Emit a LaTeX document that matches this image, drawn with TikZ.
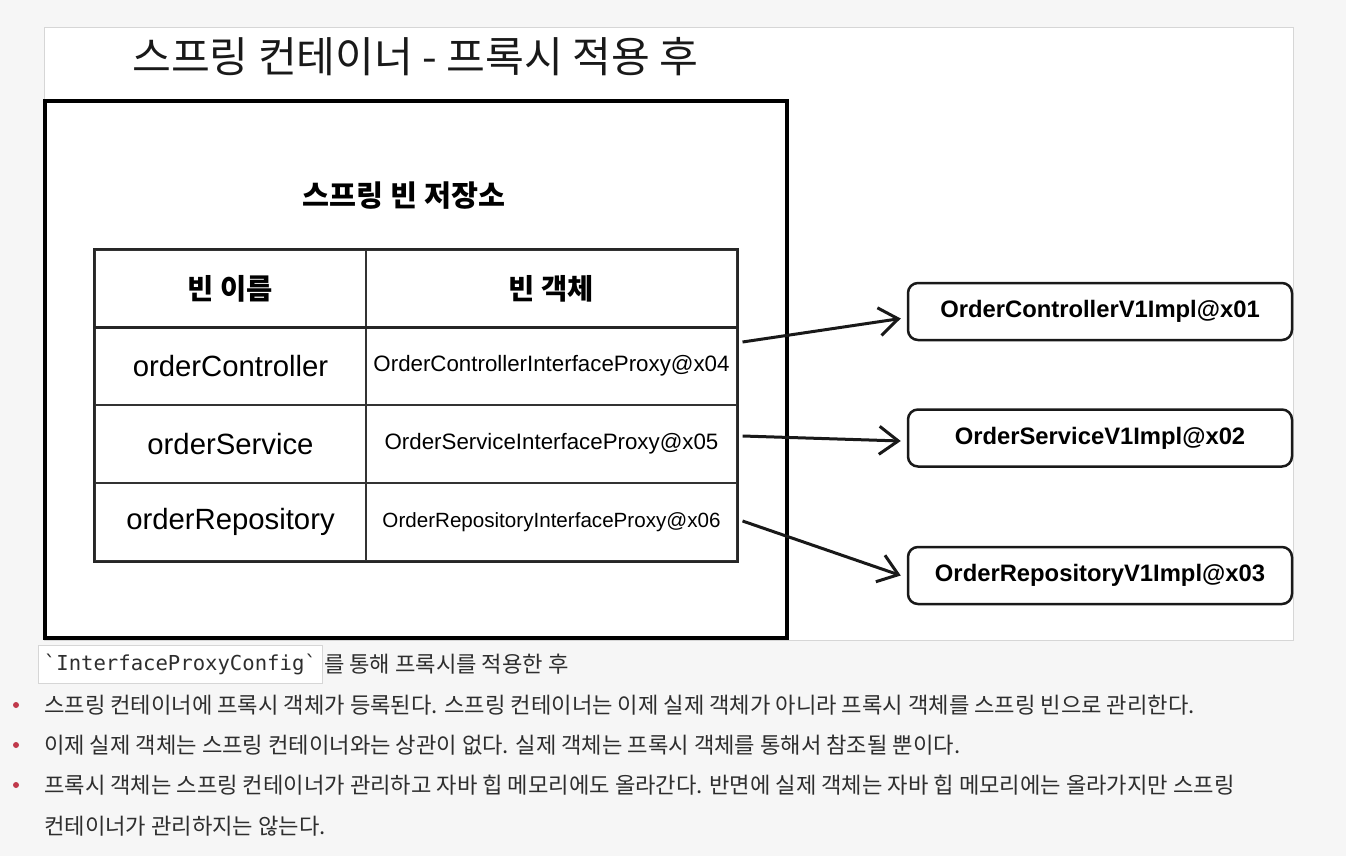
\documentclass[tikz,border=0pt]{standalone}
\usepackage{fontspec}
\setmainfont{Liberation Sans}
\newfontfamily\kr{Noto Sans CJK KR}
\newfontfamily\code{DejaVu Sans Mono}
\usetikzlibrary{arrows.meta,calc}
\definecolor{pagebg}{HTML}{F6F6F6}
\definecolor{txt}{HTML}{2E2E2E}
\definecolor{bul}{HTML}{C0394B}
\definecolor{frame}{HTML}{D6D6D6}
\tikzset{
  cell/.style={draw=black!80, line width=1.1pt, inner sep=0pt, text=black},
  namecell/.style={cell, minimum width=271pt, minimum height=78pt, font=\fontsize{29.3}{33}\selectfont},
  objcell/.style={cell, minimum width=371pt, minimum height=78pt, font=\fontsize{22.3}{26}\selectfont},
  headcell/.style={cell, minimum height=77pt, font=\kr\bfseries\fontsize{28.5}{32}\selectfont},
  implbox/.style={draw=black!90, line width=2.5pt, rounded corners=10pt, fill=white, minimum width=384pt, minimum height=57pt, inner sep=0pt, font=\bfseries\fontsize{23.8}{28}\selectfont},
  arr/.style={line width=3pt, black!90, -{Straight Barb[length=19pt,width=28pt,line width=3pt]}},
  bodytext/.style={anchor=west, inner sep=0pt, text=txt, font=\kr\fontsize{22.2}{26}\selectfont},
  bulletdot/.style={circle, fill=bul, inner sep=0pt, minimum size=6pt}
}
\begin{document}
\begin{tikzpicture}[x=1pt,y=-1pt]
\useasboundingbox (0,0) rectangle (1346,856);
\fill[pagebg] (0,0) rectangle (1346,856);
% slide frame
\node[draw=frame, fill=white, line width=0.8pt, minimum width=1249pt, minimum height=613pt, inner sep=0pt] (slide) at (668.5,333.5) {};
% title
\node[inner sep=0pt, text=black!90, font=\kr\fontsize{42.2}{48}\selectfont] (title) at (415.5,57) {스프링 컨테이너 - 프록시 적용 후};
% container
\node[draw=black, line width=4pt, minimum width=742pt, minimum height=537pt, inner sep=0pt] (container) at (416,369.5) {};
\node[inner sep=0pt, font=\kr\bfseries\fontsize{29.3}{34}\selectfont] (store) at (404,196) {스프링 빈 저장소};
% table
\node[headcell, minimum width=271pt] (h1) at (230.5,288.5) {빈 이름};
\node[headcell, minimum width=371pt] (h2) at (551.5,288.5) {빈 객체};
\node[namecell] (n1) at (230.5,366) {orderController};
\node[objcell] (p1) at (551.5,366) {OrderControllerInterfaceProxy@x04};
\node[namecell] (n2) at (230.5,444) {orderService};
\node[objcell] (p2) at (551.5,444) {OrderServiceInterfaceProxy@x05};
\node[namecell] (n3) at (230.5,522) {orderRepository};
\node[objcell, font=\fontsize{20.6}{24}\selectfont] (p3) at (551.5,522) {OrderRepositoryInterfaceProxy@x06};
\draw[black!85, line width=2pt] (h1.north west) rectangle (p3.south east);
\draw[black!85, line width=2.6pt] (h1.south west) -- (h2.south east);
% impl objects
\node[implbox] (i1) at (1100,311.5) {OrderControllerV1Impl@x01};
\node[implbox] (i2) at (1100,438) {OrderServiceV1Impl@x02};
\node[implbox] (i3) at (1100,575.5) {OrderRepositoryV1Impl@x03};
% arrows
\draw[arr] ($(p1.east)+(5,-24)$) -- ($(i1.west)+(-6,7)$);
\draw[arr] ($(p2.east)+(5,-8)$) -- ($(i2.west)+(-6,3)$);
\draw[arr] ($(p3.east)+(5,-1)$) -- ($(i3.west)+(-6,0)$);
% bottom text
\node[draw=frame, fill=white, line width=0.8pt, minimum width=284pt, minimum height=38pt, inner sep=0pt, anchor=west, text=txt, font=\code\fontsize{20.6}{24}\selectfont] (cfg) at (38,664) {`InterfaceProxyConfig`};
\node[bodytext] (intro) at ($(cfg.east)+(1,0)$) {를 통해 프록시를 적용한 후};
\node[bulletdot] (b1) at (16,705) {};
\node[bulletdot] (b2) at (16,745) {};
\node[bulletdot] (b3) at (16,785) {};
\node[bodytext] (t1) at (44,705) {스프링 컨테이너에 프록시 객체가 등록된다. 스프링 컨테이너는 이제 실제 객체가 아니라 프록시 객체를 스프링 빈으로 관리한다.};
\node[bodytext] (t2) at (44,745) {이제 실제 객체는 스프링 컨테이너와는 상관이 없다. 실제 객체는 프록시 객체를 통해서 참조될 뿐이다.};
\node[bodytext] (t3) at (44,785) {프록시 객체는 스프링 컨테이너가 관리하고 자바 힙 메모리에도 올라간다. 반면에 실제 객체는 자바 힙 메모리에는 올라가지만 스프링};
\node[bodytext] (t4) at (44,826) {컨테이너가 관리하지는 않는다.};
\end{tikzpicture}
\end{document}
